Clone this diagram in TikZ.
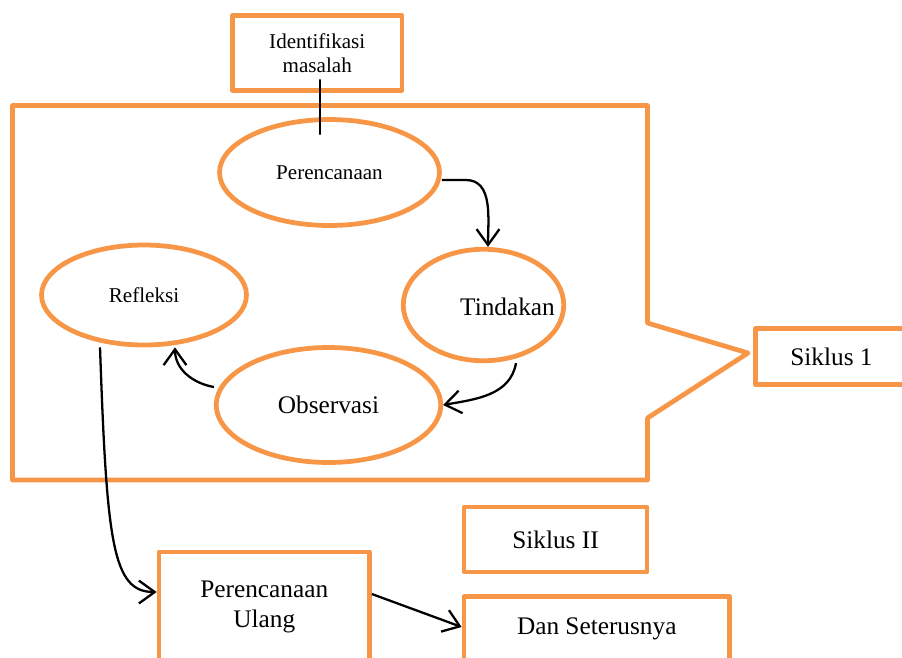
\documentclass[tikz,border=0pt]{standalone}
\usepackage{fontspec}
\setmainfont{Liberation Serif}
\usepackage{xcolor}
\usepackage{tikz}
\usetikzlibrary{arrows.meta,positioning,shapes.geometric}
\definecolor{SiklusOrange}{RGB}{247,150,70}
\definecolor{SiklusInk}{RGB}{0,0,0}

\begin{document}
\begin{tikzpicture}[
x=0.02cm,
y=-0.02cm,
tahap/.style={
draw=SiklusOrange,
line width=2.7pt,
ellipse,
inner sep=0pt,
font=\fontsize{14.4}{17}\selectfont
},
kotak/.style={
draw=SiklusOrange,
line width=2.7pt,
line join=round,
rectangle,
inner sep=0pt,
align=center,
font=\fontsize{14.4}{17}\selectfont
},
alur/.style={
draw=SiklusInk,
line width=1.3pt,
-{Straight Barb[length=9pt,width=13pt]}
}
]

\useasboundingbox (0,0) rectangle (902,657);
\clip (0,0) rectangle (902,657);

\draw[SiklusOrange,line width=2.7pt,line join=round]
(12.5,105.5) -- (647.5,105.5) -- (647.5,323) -- (748,353)
-- (647.5,418) -- (647.5,480) -- (12.5,480) -- cycle;

\node[kotak,minimum width=3.39cm,minimum height=1.5cm,
font=\fontsize{12}{14}\selectfont] (ident) at (317.25,53) {Identifikasi\\masalah};
\node[kotak,minimum width=3.4cm,minimum height=1.12cm] (siklus1) at (840.5,356.5) {\hspace*{-0.36cm}Siklus 1};
\node[kotak,minimum width=3.66cm,minimum height=1.3cm] (siklus2) at (555.5,539.5) {Siklus II};
\node[kotak,minimum width=4.21cm,minimum height=2.2cm] (ulang) at (264.25,607) {Perencanaan\\Ulang};
\node[kotak,minimum width=5.31cm,minimum height=1.3cm] (seterusnya) at (596.75,629) {Dan Seterusnya};

\node[tahap,minimum width=4.4cm,minimum height=2.12cm,
font=\fontsize{12}{14}\selectfont] (perencanaan) at (329.5,172.5) {Perencanaan};
\node[tahap,minimum width=3.21cm,minimum height=2.23cm] (tindakan) at (483.5,305) {};
\node[font=\fontsize{14.4}{17}\selectfont] (tindakan-teks) at (507.5,307) {Tindakan};
\node[tahap,minimum width=4.1cm,minimum height=2cm,
font=\fontsize{12}{14}\selectfont] (refleksi) at (144,295) {Refleksi};
\node[tahap,minimum width=4.49cm,minimum height=2.3cm] (observasi) at (328.5,405) {Observasi};

\draw[SiklusInk,line width=1.1pt] ([xshift=0.055cm,yshift=0.27cm]ident.south)
-- ([xshift=-0.19cm,yshift=-0.35cm]perencanaan.north);

\draw[alur] ([yshift=-0.15cm]perencanaan.east) -- ++(24,0)
to[out=0,in=90] ([xshift=0.09cm]tindakan.north);
\draw[alur] ([xshift=0.65cm]tindakan.south)
to[out=-100,in=10] (observasi.east);
\draw[alur] ([yshift=0.36cm]observasi.west)
to[out=170,in=-90] ([xshift=0.62cm]refleksi.south);
\draw[alur] ([xshift=-0.88cm]refleksi.south)
to[out=-88,in=180,out looseness=2,in looseness=0.45] ([yshift=0.3cm]ulang.west);
\draw[alur] ([yshift=0.26cm]ulang.east) -- ([yshift=0.04cm]seterusnya.west);

\end{tikzpicture}
\end{document}
